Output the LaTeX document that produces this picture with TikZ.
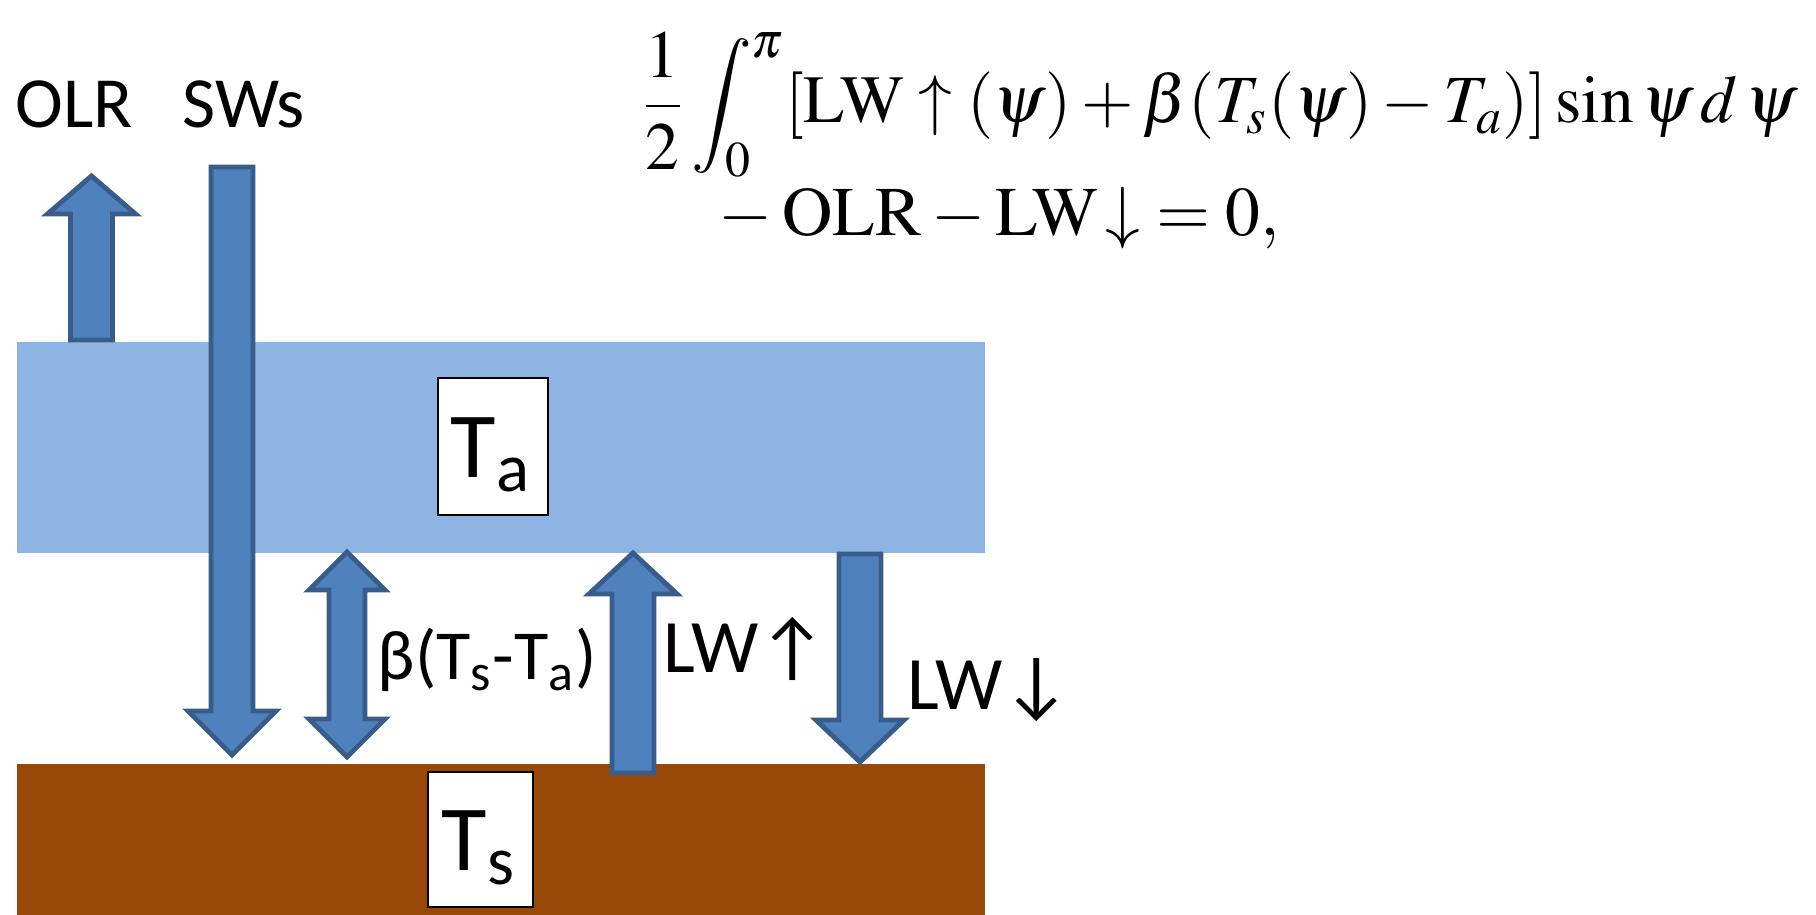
\documentclass[tikz,border=0pt]{standalone}
\usepackage{mathptmx}
\usepackage[no-math]{fontspec}
\setmainfont{Carlito}
\usepackage{tikz}

\definecolor{airblue}{HTML}{8EB4E3}
\definecolor{arrowblue}{HTML}{4F81BD}
\definecolor{arrowline}{HTML}{385D8A}
\definecolor{soilbrown}{HTML}{984807}

% block arrow: x, tail y, head base y, tip y
\newcommand{\fatarrow}[4]{%
	\draw[fatarrow] (#1-21,#2) -- (#1-21,#3) -- (#1-44,#3) -- (#1,#4)
		-- (#1+44,#3) -- (#1+21,#3) -- (#1+21,#2) -- cycle;}

\begin{document}
\begin{tikzpicture}[x=0.1mm, y=-0.1mm, font=\fontsize{20.5}{24}\selectfont,
		fatarrow/.style={fill=arrowblue, draw=arrowline, line width=1.4pt, line join=miter},
		tempbox/.style={draw=black, fill=white, line width=0.6pt, inner sep=0pt, outer sep=0pt},
		tempname/.style={anchor=base, inner sep=0pt, font=\fontsize{26.5}{30}\selectfont},
		lbl/.style={anchor=base west, inner sep=0pt},
		eqn/.style={anchor=base west, inner sep=0pt, font=\fontsize{19.8}{24}\selectfont}]
	\useasboundingbox (0,0) rectangle (1816,915);
	% atmosphere and surface
	\fill[airblue] (17,342) rectangle (985,553);
	\fill[soilbrown] (17,764) rectangle (985,915);
	\node[tempbox, minimum width=11mm, minimum height=13.7mm] (Ta) at (493,446.5) {};
	\node[tempbox, minimum width=10.5mm, minimum height=13.5mm] (Ts) at (480.5,839.5) {};
	\node[tempname] (TaText) at (491,478) {T\textsubscript{a}};
	\node[tempname] (TsText) at (479,871) {T\textsubscript{s}};
	% fluxes
	\fatarrow{91.5}{340}{214}{176}
	\fatarrow{232}{167}{711}{755}
	\fatarrow{633}{773}{594}{553}
	\fatarrow{860}{554}{720}{762}
	\draw[fatarrow] (347,552) -- (385,590) -- (365,590) -- (365,719) -- (385,719)
		-- (347,757) -- (309,719) -- (329,719) -- (329,590) -- (309,590) -- cycle;
	% labels
	\node[lbl] (olr) at (15,128) {OLR};
	\node[lbl] (sws) at (182,128) {SWs};
	\node[lbl, font=\fontsize{20}{24}\selectfont] (beta) at (377,680) {β(T\textsubscript{s}-T\textsubscript{a})};
	\node[lbl, font=\fontsize{21.5}{24}\selectfont] (lwup) at (663,673) {LW↑};
	\node[lbl, font=\fontsize{21.5}{24}\selectfont] (lwdown) at (907,710) {LW↓};
	% energy balance
	\node[eqn, font=\fontsize{19.2}{24}\selectfont] (eqtop) at (641,123)
		{$\displaystyle\frac{1}{2}\int_0^{\pi}[\mathrm{LW}\uparrow(\psi)+\beta(T_s(\psi)-T_a)]\sin\psi\,d\,\psi$};
	\node[eqn] (eqbot) at (718,236)
		{$-\:\mathrm{OLR}-\mathrm{LW}\!\downarrow\;=0,$};
\end{tikzpicture}
\end{document}
